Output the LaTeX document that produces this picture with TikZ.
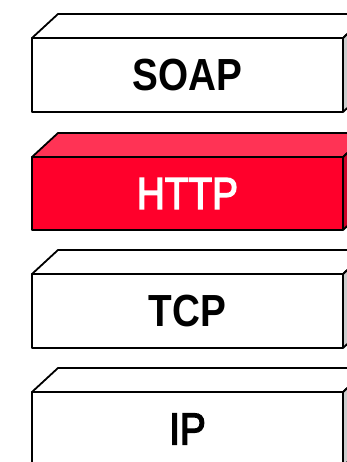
\documentclass[tikz,border=0pt]{standalone}
\usepackage{fontspec}
\setmainfont{Liberation Sans}[FakeStretch=0.86]
\newfontfamily\medfont{Liberation Sans}[FakeStretch=0.86, FakeBold=3]
\definecolor{httpfront}{RGB}{255,0,43}
\definecolor{httptop}{RGB}{255,51,85}
\definecolor{httpside}{RGB}{205,0,40}
\definecolor{greyside}{RGB}{205,205,205}
\tikzset{
  face/.style={draw=black, line width=1.8pt, line join=round},
  label/.style={font=\fontsize{45}{45}\selectfont, inner sep=0pt, anchor=center},
}
\newcommand{\layerbox}[7]{%
  % #1 name, #2 top y, #3 bottom y, #4 front fill, #5 top fill, #6 side fill, #7 text
  \fill[#6] (343,#2) -- (369,#2-24) -- (369,#3-24) -- (343,#3) -- cycle;
  \draw[face, fill=#5] (32,#2) -- (58,#2-24) -- (369,#2-24) -- (343,#2) -- cycle;
  \draw[face] (343,#2) -- (369,#2-24) -- (369,#3-24) -- (343,#3);
  \draw[face, fill=#4] (32,#2) rectangle (343,#3);
  \node[label] (#1) at (187.5,{(#2+#3)/2}) {#7};
}
\begin{document}
\begin{tikzpicture}[x=1pt,y=-1pt]
\useasboundingbox (0,0) rectangle (347,462);
\clip (0,0) rectangle (347,462);
\layerbox{soap}{38}{112}{white}{white}{greyside}{\bfseries SOAP}
\layerbox{http}{157}{230}{httpfront}{httptop}{httpside}{\medfont\color{white}HTTP}
\layerbox{tcp}{274}{348}{white}{white}{greyside}{\bfseries TCP}
\layerbox{ip}{392}{466}{white}{white}{greyside}{\medfont IP}
\end{tikzpicture}
\end{document}
